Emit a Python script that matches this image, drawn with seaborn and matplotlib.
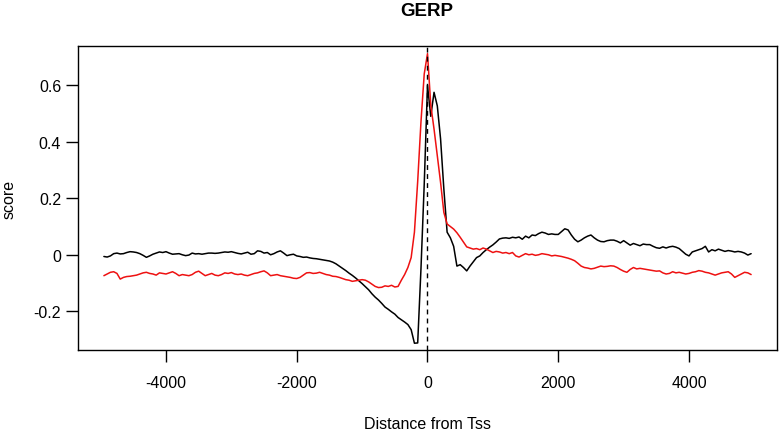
import numpy as np
import pandas as pd
import seaborn as sns
import matplotlib
matplotlib.use("Agg")
import matplotlib.pyplot as plt

# distance from TSS, step 50
distance = np.arange(-4950, 4951, 50)

black_score = [
    -0.006, -0.008, -0.004, 0.004, 0.006, 0.003, 0.004, 0.008, 0.011, 0.010, 0.008, 0.004, -0.002, -0.009, -0.004, 0.002, 0.006, 0.010, 0.008,
    0.011, 0.006, 0.002, 0.003, 0.004, 0.000, -0.003, -0.001, 0.006, 0.003, 0.004, 0.002, 0.004, 0.006, 0.006, 0.005, 0.006, 0.008, 0.010, 0.009,
    0.011, 0.008, 0.005, 0.003, 0.006, 0.009, 0.002, 0.004, 0.014, 0.012, 0.006, 0.008, 0.000, 0.004, 0.010, 0.014, 0.006, -0.003, 0.000, 0.002,
    -0.004, -0.006, -0.009, -0.008, -0.011, -0.013, -0.014, -0.016, -0.018, -0.020, -0.022, -0.026, -0.032, -0.040, -0.048, -0.056, -0.065, -0.073, -0.082, -0.092,
    -0.102, -0.113, -0.124, -0.138, -0.150, -0.160, -0.172, -0.185, -0.193, -0.202, -0.210, -0.222, -0.230, -0.238, -0.247, -0.265, -0.313, -0.312, -0.050, 0.250,
    0.600, 0.490, 0.575, 0.527, 0.410, 0.233, 0.080, 0.060, 0.030, -0.040, -0.035, -0.045, -0.057, -0.040, -0.025, -0.010, -0.004, 0.008, 0.018, 0.027,
    0.035, 0.045, 0.056, 0.059, 0.060, 0.058, 0.062, 0.060, 0.063, 0.055, 0.066, 0.060, 0.070, 0.068, 0.075, 0.080, 0.077, 0.072, 0.074, 0.072,
    0.072, 0.082, 0.092, 0.088, 0.070, 0.055, 0.046, 0.052, 0.060, 0.066, 0.070, 0.060, 0.052, 0.047, 0.046, 0.050, 0.052, 0.052, 0.048, 0.042,
    0.050, 0.042, 0.034, 0.040, 0.036, 0.032, 0.038, 0.036, 0.036, 0.030, 0.025, 0.023, 0.028, 0.024, 0.028, 0.030, 0.027, 0.022, 0.012, 0.002,
    -0.004, 0.010, 0.014, 0.018, 0.022, 0.030, 0.010, 0.018, 0.014, 0.020, 0.016, 0.012, 0.015, 0.013, 0.010, 0.012, 0.010, 0.006, -0.001, 0.004,
]

red_score = [
    -0.074, -0.068, -0.062, -0.060, -0.066, -0.086, -0.080, -0.077, -0.076, -0.074, -0.072, -0.068, -0.064, -0.062, -0.066, -0.068, -0.072, -0.064, -0.066,
    -0.068, -0.064, -0.060, -0.066, -0.074, -0.070, -0.072, -0.074, -0.070, -0.062, -0.058, -0.066, -0.074, -0.070, -0.066, -0.072, -0.074, -0.070, -0.064, -0.066,
    -0.063, -0.068, -0.070, -0.068, -0.072, -0.074, -0.070, -0.066, -0.064, -0.060, -0.057, -0.064, -0.074, -0.072, -0.070, -0.074, -0.076, -0.078, -0.080, -0.083,
    -0.084, -0.080, -0.072, -0.064, -0.063, -0.066, -0.065, -0.062, -0.066, -0.070, -0.072, -0.076, -0.077, -0.080, -0.084, -0.088, -0.090, -0.094, -0.092, -0.090,
    -0.088, -0.090, -0.096, -0.104, -0.112, -0.116, -0.115, -0.110, -0.112, -0.108, -0.114, -0.112, -0.090, -0.070, -0.045, -0.010, 0.080, 0.260, 0.470, 0.640,
    0.712, 0.530, 0.445, 0.350, 0.256, 0.150, 0.109, 0.100, 0.091, 0.078, 0.062, 0.045, 0.028, 0.024, 0.020, 0.022, 0.018, 0.024, 0.020, 0.014,
    0.008, 0.012, 0.010, 0.006, 0.008, 0.004, 0.008, -0.004, -0.008, -0.002, 0.004, 0.000, 0.002, -0.002, 0.000, 0.004, 0.002, 0.000, -0.004, -0.002,
    -0.004, -0.006, -0.009, -0.012, -0.016, -0.021, -0.030, -0.040, -0.045, -0.047, -0.050, -0.048, -0.044, -0.040, -0.042, -0.041, -0.039, -0.040, -0.045, -0.052,
    -0.058, -0.062, -0.052, -0.045, -0.050, -0.048, -0.050, -0.052, -0.054, -0.056, -0.058, -0.057, -0.064, -0.068, -0.066, -0.060, -0.064, -0.062, -0.065, -0.068,
    -0.066, -0.062, -0.060, -0.056, -0.058, -0.062, -0.064, -0.068, -0.072, -0.068, -0.064, -0.062, -0.060, -0.068, -0.080, -0.074, -0.068, -0.062, -0.064, -0.070,
]

x_ticks = [-4000, -2000, 0, 2000, 4000]
y_ticks = [-0.2, 0, 0.2, 0.4, 0.6]
y_tick_labels = ["-0.2", "0", "0.2", "0.4", "0.6"]

df = pd.DataFrame({
    "distance": np.concatenate([distance, distance]),
    "score": black_score + red_score,
    "series": ["black"] * len(distance) + ["red"] * len(distance),
})

sns.set_style("ticks")
plt.rcParams["font.family"] = ["Liberation Sans", "DejaVu Sans"]
plt.rcParams["text.color"] = "black"
plt.rcParams["xtick.color"] = "black"
plt.rcParams["ytick.color"] = "black"
plt.rcParams["axes.edgecolor"] = "black"

fig = plt.figure(figsize=(7.82, 4.35), dpi=100)
ax = fig.add_axes([78 / 782, 1 - 351 / 435, (777 - 78) / 782, (351 - 46.7) / 435])

sns.lineplot(data=df, x="distance", y="score", hue="series",
             palette={"black": "black", "red": "#ee1111"},
             linewidth=1.1, legend=False, ax=ax, estimator=None)
ax.axvline(0, color="black", linestyle=(0, (3.5, 3)), linewidth=1.0)

ax.set_xlim(-5346, 5346)
ax.set_ylim(-0.337, 0.740)
ax.set_xticks(x_ticks)
ax.set_xticklabels([str(t) for t in x_ticks])
ax.set_yticks(y_ticks)
ax.set_yticklabels(y_tick_labels)
ax.tick_params(axis="both", length=8.6, width=1.0, labelsize=11.5,
               color="black", labelcolor="black")
ax.tick_params(axis="x", pad=9.5)
ax.tick_params(axis="y", pad=3.5)
for s in ax.spines.values():
    s.set_linewidth(1.0)
    s.set_color("black")
ax.set_xlabel("")
ax.set_ylabel("")

fig.text(427 / 782, 1 - 12 / 435, "GERP", ha="center", va="center",
         fontsize=13.5, fontweight="bold", color="black")
fig.text(427 / 782, 1 - 425 / 435, "Distance from Tss", ha="center", va="center",
         fontsize=11.5, color="black")
fig.text(9 / 782, 1 - 199 / 435, "score", ha="center", va="center",
         rotation=90, fontsize=11.5, color="black")

fig.savefig("out.png", dpi=100)
